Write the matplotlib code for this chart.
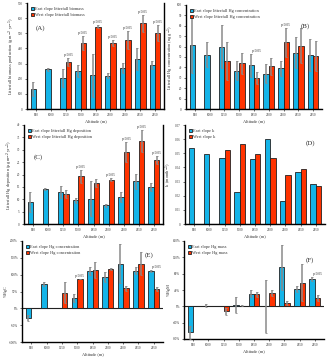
import numpy as np
import matplotlib
matplotlib.use("Agg")
import matplotlib.pyplot as plt

plt.rcParams['font.family'] = ['Liberation Serif', 'DejaVu Serif']
plt.rcParams['text.color'] = '#333333'
plt.rcParams['xtick.color'] = '#333333'
plt.rcParams['ytick.color'] = '#333333'
plt.rcParams['axes.labelcolor'] = '#333333'

# --- Data ---
altitudes = ['850', '1000', '1250', '1500', '1850', '2100', '2400', '2650', '2950']
nan = np.nan

biomass_east = [132, 264, 205, 253, 222, 220, 271, 330, 291]
biomass_east_err = [45, 10, 60, 40, 140, 15, 30, 75, 25]
biomass_west = [nan, nan, 310, 434, 542, 436, 456, 566, 502]
biomass_west_err = [nan, nan, 25, 45, 10, 20, 60, 55, 50]

conc_east = [62, 52, 60, 37, 42, 34, 39, 54, 52]
conc_east_err = [27, 12, 21, 9, 11, 9, 7, 15, 15]
conc_west = [nan, nan, 46, 44, 30, 41, 64, 61, 51]
conc_west_err = [nan, nan, 18, 10, 6, 8, 14, 17, 14]

dep_east = [8.9, 14.2, 13.0, 9.5, 10.2, 7.5, 10.9, 17.2, 15.0]
dep_east_err = [4, 0.5, 2.5, 1.0, 7, 0.5, 2, 3, 1.5]
dep_west = [nan, nan, 12.2, 19.2, 16.5, 17.9, 29.1, 33.6, 25.8]
dep_west_err = [nan, nan, 1.5, 2.5, 1.5, 0.5, 4, 4.5, 1.5]

k_east = [0.0539, 0.0494, 0.0468, 0.0227, 0.0461, 0.060, 0.0163, 0.0371, 0.0284]
k_west = [nan, nan, 0.0525, 0.0567, 0.0497, 0.047, 0.035, 0.0388, 0.027]

hgc_east = [-29, 72, nan, 32, 111, 92, 133, 112, 111]
hgc_east_err = [8, 6, nan, 12, 12, 15, 59, 10, 3]
hgc_west = [nan, nan, 47, 86, 114, 117, 59, 133, 57]
hgc_west_err = [nan, nan, 30, 0, 25, 3, 8, 35, 6]

hgm_east = [-64, 2, nan, 3, 31, 0, 96, 42, 67]
hgm_east_err = [15, 3, nan, 20, 8, 65, 55, 8, 5]
hgm_west = [nan, nan, -12, 2, 29, 33, 8, 58, 20]
hgm_west_err = [nan, nan, 8, 2, 6, 8, 5, 46, 7]

EAST = '#14b4e8'
WEST = '#ff3300'
W, H = 327, 359


def make_ax(fig, l, r, t, b):
    return fig.add_axes([l / W, 1 - b / H, (r - l) / W, (b - t) / H])


def panel(ax, east, west, east_err, west_err, ylim, yticks, ytl, ylabel,
          labels, tag, tag_xy, pvals=(), pfmt='p<0.05', right=False):
    x = np.arange(len(altitudes))
    w = 0.36
    ax.bar(x - w / 2, east, w, color=EAST, edgecolor='#222222', lw=0.6,
           label=labels[0], zorder=2)
    ax.bar(x + w / 2, west, w, color=WEST, edgecolor='#222222', lw=0.6,
           label=labels[1], zorder=2)
    if east_err is not None:
        ax.errorbar(x - w / 2, east, yerr=east_err, fmt='none', ecolor='#8a8a8a',
                    elinewidth=1.1, capsize=1, capthick=0.6, zorder=3)
        ax.errorbar(x + w / 2, west, yerr=west_err, fmt='none', ecolor='#8a8a8a',
                    elinewidth=1.1, capsize=1, capthick=0.6, zorder=3)
    span = ylim[1] - ylim[0]
    for i in pvals:
        top = np.nanmax([west[i] + (west_err[i] if west_err is not None else 0),
                         east[i] + (east_err[i] if east_err is not None and not np.isnan(east_err[i]) else 0)])
        ax.text(x[i] + w / 2, top + span * 0.01, pfmt, fontsize=2.6, ha='center', va='bottom')
    ax.set_xlim(-0.6, len(altitudes) - 0.4)
    ax.set_ylim(*ylim)
    ax.set_yticks(yticks)
    ax.set_yticklabels(ytl, fontsize=2.3)
    ax.set_xticks(x)
    ax.set_xticklabels(altitudes, fontsize=2.3)
    ax.tick_params(length=1.5, width=0.5, pad=1.5)
    ax.set_xlabel('Altitude (m)', fontsize=3.2, labelpad=1.2)
    ax.set_ylabel(ylabel, fontsize=3.2, labelpad=1.0)
    for s in ['top', 'right']:
        ax.spines[s].set_visible(False)
    if right:
        ax.spines['right'].set_visible(True)
        ax.yaxis.set_ticks_position('left')
    for s in ['left', 'bottom', 'right']:
        ax.spines[s].set_linewidth(1.0)
    ax.axhline(0, color='#222222', lw=0.8, zorder=1)
    ax.legend(loc='upper left', fontsize=3.2, frameon=False, handlelength=0.8,
              handleheight=0.8, borderaxespad=0.4, labelspacing=0.5, handletextpad=0.3)
    ax.text(tag_xy[0], tag_xy[1], tag, transform=ax.transAxes, fontsize=5,
            ha='center', va='center')


fig = plt.figure(figsize=(W / 100, H / 100), dpi=100)

axA = make_ax(fig, 27, 164, 3, 109)
panel(axA, biomass_east, biomass_west, biomass_east_err, biomass_west_err,
      (0, 700), range(0, 701, 100), [str(v) for v in range(0, 701, 100)],
      'Litterfall biomass production (g m$^{-2}$ yr$^{-1}$)',
      ['East slope litterfall biomass', 'West slope litterfall biomass'],
      '(A)', (0.1, 0.76), pvals=range(2, 9), right=True)

axB = make_ax(fig, 186, 322, 5, 109)
panel(axB, conc_east, conc_west, conc_east_err, conc_west_err,
      (0, 100), range(0, 101, 10), [str(v) for v in range(0, 101, 10)],
      'Litterfall Hg concentration (ng g$^{-1}$)',
      ['East slope litterfall Hg concentration', 'West slope litterfall Hg concentration'],
      '(B)', (0.88, 0.8), pvals=[4, 6])

axC = make_ax(fig, 24, 163, 125, 224)
panel(axC, dep_east, dep_west, dep_east_err, dep_west_err,
      (0, 40), range(0, 41, 5), [str(v) for v in range(0, 41, 5)],
      'Litterfall Hg deposition (μg m$^{-2}$ yr$^{-1}$)',
      ['East slope litterfall Hg deposition', 'West slope litterfall Hg deposition'],
      '(C)', (0.1, 0.68), pvals=[3, 5, 6, 7, 8], pfmt='p<0.05', right=True)

axD = make_ax(fig, 185, 325, 125, 224)
panel(axD, k_east, k_west, None, None,
      (0, 0.07), np.arange(0, 0.0701, 0.01),
      ['0', '0.01', '0.02', '0.03', '0.04', '0.05', '0.06', '0.07'],
      'k  (month$^{-1}$)',
      ['East slope k', 'West slope k'], '(D)', (0.9, 0.82))

axE = make_ax(fig, 22, 163, 241, 342)
panel(axE, hgc_east, hgc_west, hgc_east_err, hgc_west_err,
      (-100, 200), range(-100, 201, 50), [f'{v}%' for v in range(-100, 201, 50)],
      '%HgC',
      ['East slope Hg concentration', 'West slope Hg concentration'],
      '(E)', (0.9, 0.86), pvals=[3, 8])

axF = make_ax(fig, 184, 324, 241, 339)
panel(axF, hgm_east, hgm_west, hgm_east_err, hgm_west_err,
      (-80, 160), range(-80, 161, 40), [f'{v}%' for v in range(-80, 161, 40)],
      '%HgM',
      ['East slope Hg mass', 'West slope Hg mass'],
      '(F)', (0.9, 0.8), pvals=[8])

fig.savefig('out.png', dpi=100)
